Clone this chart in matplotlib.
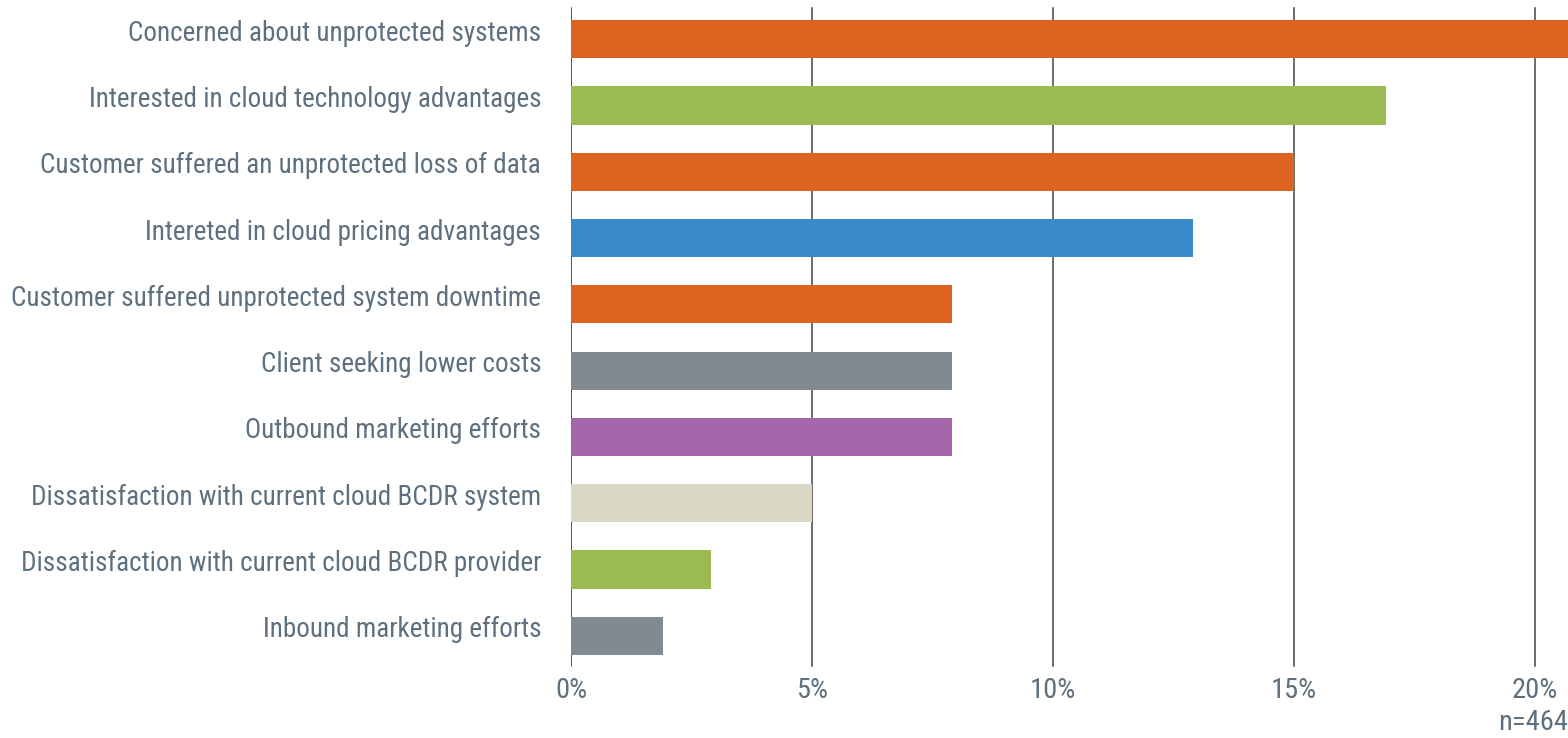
import matplotlib
matplotlib.use("Agg")
import matplotlib.pyplot as plt
from matplotlib import font_manager
from matplotlib.transforms import ScaledTranslation

categories = [
    "Concerned about unprotected systems",
    "Interested in cloud technology advantages",
    "Customer suffered an unprotected loss of data",
    "Intereted in cloud pricing advantages",
    "Customer suffered unprotected system downtime",
    "Client seeking lower costs",
    "Outbound marketing efforts",
    "Dissatisfaction with current cloud BCDR system",
    "Dissatisfaction with current cloud BCDR provider",
    "Inbound marketing efforts",
]
values = [21.0, 16.9, 15.0, 12.9, 7.9, 7.9, 7.9, 5.0, 2.9, 1.9]
colors = ["#dd6420", "#9bbb51", "#dd6420", "#3a89c9", "#dd6420",
          "#828a91", "#a567a9", "#dad8c4", "#9bbb51", "#828a91"]
ticks = [0, 5, 10, 15, 20]
note = "n=464"

# pick a narrow font if one is installed
names = {f.name for f in font_manager.fontManager.ttflist}
family = "DejaVu Sans"
for cand in ["Roboto Condensed", "Liberation Sans Narrow", "Open Sans Condensed", "DejaVu Sans Condensed"]:
    if cand in names:
        family = cand
        break
plt.rcParams["font.family"] = [family, "DejaVu Sans"]
txt = "#5e7080"
fs = 19.5 if family != "DejaVu Sans" else 15

fig = plt.figure(figsize=(15.68, 7.38), dpi=100)
ax = fig.add_axes([571 / 1568, 1 - 669 / 738, 1 - 571 / 1568, 663 / 738])

y = list(range(len(categories)))
ax.barh(y, values, height=0.575, color=colors, zorder=3)
ax.set_ylim(len(categories) - 0.5, -0.5)
ax.set_xlim(0, 20.68)
ax.set_yticks(y)
ax.set_yticklabels(categories, fontsize=fs, color=txt)
ax.set_xticks(ticks)
ax.set_xticklabels([f"{t}%" for t in ticks], fontsize=fs + 1, color=txt)
ax.tick_params(axis="y", length=0, pad=21.5)
ax.tick_params(axis="x", length=0, pad=6)
# labels sit a little above the bar centre in the original
shift = ScaledTranslation(0, 9 / 100, fig.dpi_scale_trans)
for lab in ax.get_yticklabels():
    lab.set_transform(lab.get_transform() + shift)
for s in ax.spines.values():
    s.set_visible(False)
for t in ticks:
    ax.axvline(t, ymin=3 / 663, ymax=1 - 2 / 663,
               color="#222222" if t == 0 else "#444444", lw=1.1, zorder=1)

fig.text(1.0, 2 / 738, note, ha="right", va="bottom", fontsize=fs + 1, color=txt)

fig.savefig("out.png", dpi=100)
